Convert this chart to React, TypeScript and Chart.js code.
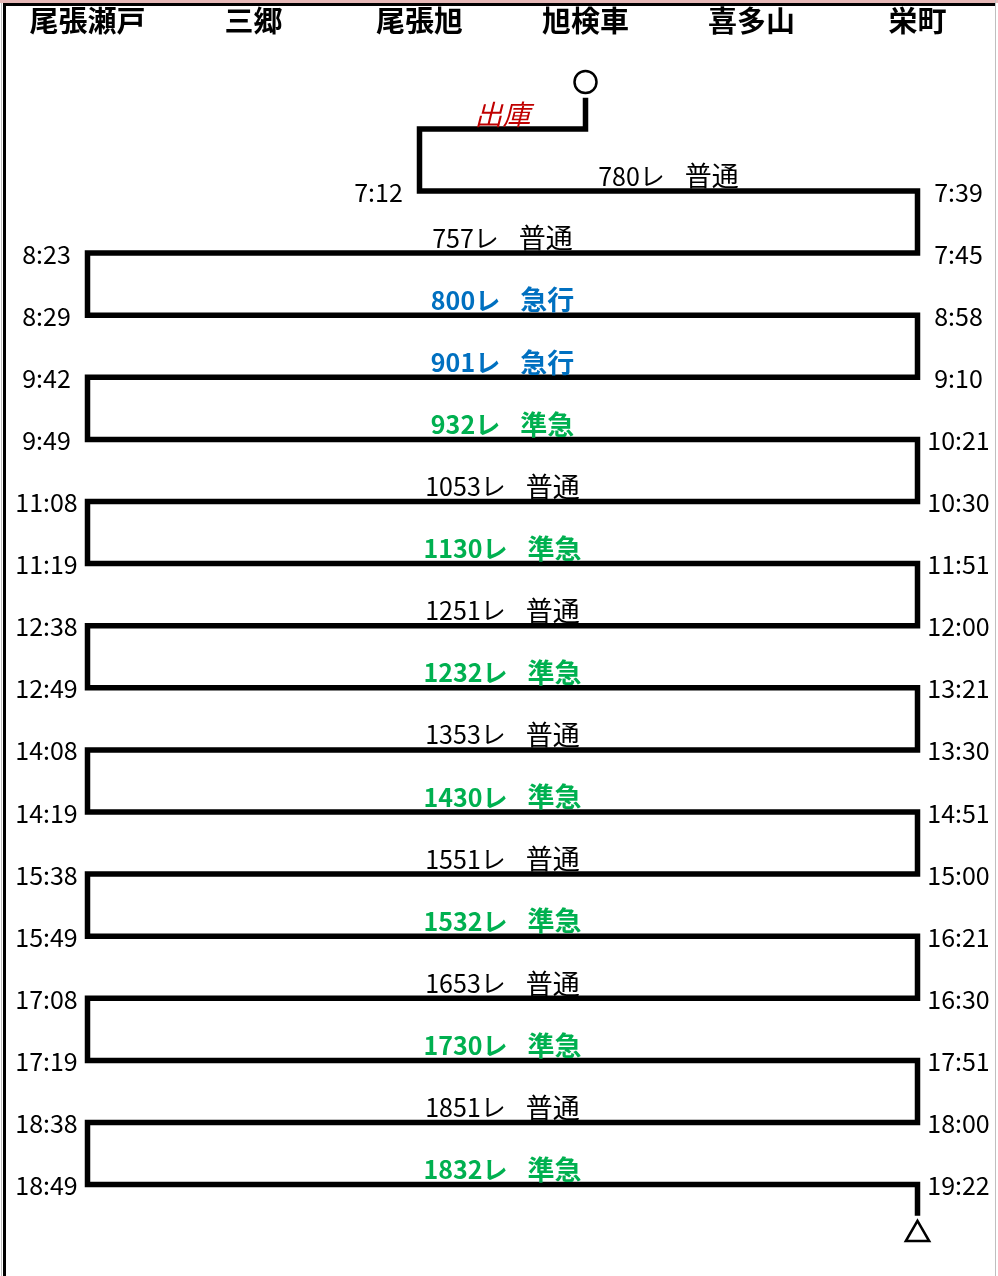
import React, { useEffect, useRef } from 'react';
import { Chart, registerables } from 'chart.js';

Chart.register(...registerables);

// ---- data ----
const stations = ['尾張瀬戸', '三郷', '尾張旭', '旭検車', '喜多山', '栄町'];
const trains = ['780レ', '757レ', '800レ', '901レ', '932レ', '1053レ', '1130レ', '1251レ', '1232レ', '1353レ', '1430レ', '1551レ', '1532レ', '1653レ', '1730レ', '1851レ', '1832レ'];
const kinds = ['普通', '普通', '急行', '急行', '準急', '普通', '準急', '普通', '準急', '普通', '準急', '普通', '準急', '普通', '準急', '普通', '準急'];
const fromStation = [2, 5, 0, 5, 0, 5, 0, 5, 0, 5, 0, 5, 0, 5, 0, 5, 0];
const toStation = [5, 0, 5, 0, 5, 0, 5, 0, 5, 0, 5, 0, 5, 0, 5, 0, 5];
const depTimes = ['7:12', '7:45', '8:29', '9:10', '9:49', '10:30', '11:19', '12:00', '12:49', '13:30', '14:19', '15:00', '15:49', '16:30', '17:19', '18:00', '18:49'];
const arrTimes = ['7:39', '8:23', '8:58', '9:42', '10:21', '11:08', '11:51', '12:38', '13:21', '14:08', '14:51', '15:38', '16:21', '17:08', '17:51', '18:38', '19:22'];
const kindColors: Record<string, string> = { '普通': '#000000', '急行': '#0070C0', '準急': '#00B050' };
const depotLabel = '出庫';
const depotStation = 3; // 旭検車
const depotRow = -1;
const startRow = -1.5;
const startMarkRow = -1.755;
const endRow = 16.5;
const endMarkRow = 16.8;

const FONT = '"Noto Sans CJK JP", "Noto Sans", sans-serif';

function buildPath() {
  const pts: { x: number; y: number }[] = [];
  pts.push({ x: depotStation, y: startRow });
  pts.push({ x: depotStation, y: depotRow });
  pts.push({ x: fromStation[0], y: depotRow });
  for (let r = 0; r < trains.length; r++) {
    pts.push({ x: fromStation[r], y: r });
    pts.push({ x: toStation[r], y: r });
  }
  pts.push({ x: toStation[trains.length - 1], y: endRow });
  return pts;
}

const labelsPlugin = {
  id: 'diagramLabels',
  beforeDraw(chart: any) {
    const ctx = chart.ctx;
    ctx.save();
    ctx.fillStyle = '#ffffff';
    ctx.fillRect(0, 0, chart.width, chart.height);
    ctx.restore();
  },
  afterDatasetsDraw(chart: any) {
    const ctx = chart.ctx;
    const xs = chart.scales.x;
    const ys = chart.scales.y;
    ctx.save();
    // frame
    ctx.fillStyle = '#E6B8B7';
    ctx.fillRect(0, 0, chart.width, 3);
    ctx.fillStyle = '#000000';
    ctx.fillRect(3, 3, 992, 3);
    ctx.fillRect(3, 3, 3, chart.height);
    ctx.fillStyle = '#BFBFBF';
    ctx.fillRect(1, 3, 1, chart.height);
    ctx.fillRect(995, 0, 1, chart.height);

    // station header
    ctx.textAlign = 'center';
    ctx.textBaseline = 'middle';
    ctx.fillStyle = '#000000';
    ctx.font = `bold 29px ${FONT}`;
    stations.forEach((s, i) => {
      ctx.fillText(s, xs.getPixelForValue(i), 21);
    });

    // times
    ctx.font = `25px ${FONT}`;
    for (let r = 0; r < trains.length; r++) {
      const y = ys.getPixelForValue(r);
      const lo = Math.min(fromStation[r], toStation[r]);
      const put = (st: number, t: string) => {
        const px = xs.getPixelForValue(st);
        const x = st === lo ? px - 41 : px + 41;
        ctx.fillText(t, x, y + 1);
      };
      put(fromStation[r], depTimes[r]);
      put(toStation[r], arrTimes[r]);
    }

    // train labels
    ctx.textAlign = 'left';
    for (let r = 0; r < trains.length; r++) {
      const y = ys.getPixelForValue(r) - 15;
      const x = xs.getPixelForValue((fromStation[r] + toStation[r]) / 2);
      const col = kindColors[kinds[r]];
      const weight = col === '#000000' ? '' : 'bold ';
      ctx.fillStyle = col;
      ctx.font = `${weight}25px ${FONT}`;
      const w1 = ctx.measureText(trains[r]).width;
      ctx.font = `${weight}27px ${FONT}`;
      const w2 = ctx.measureText(kinds[r]).width;
      const gap = 20;
      const start = x - (w1 + gap + w2) / 2;
      ctx.font = `${weight}25px ${FONT}`;
      ctx.fillText(trains[r], start, y);
      ctx.font = `${weight}27px ${FONT}`;
      ctx.fillText(kinds[r], start + w1 + gap, y);
    }

    // depot label
    ctx.textAlign = 'center';
    ctx.fillStyle = '#C00000';
    ctx.font = `italic 28px ${FONT}`;
    ctx.fillText(depotLabel, xs.getPixelForValue((depotStation + fromStation[0]) / 2), ys.getPixelForValue(depotRow) - 15);
    ctx.restore();
  },
};

export default function App() {
  const ref = useRef<HTMLCanvasElement | null>(null);
  useEffect(() => {
    document.body.style.margin = '0';
    const canvas = ref.current;
    if (!canvas) return;
    const unitX = 166;
    const x0 = 87.5;
    const unitY = 62.1;
    const y0 = 191;
    const xmin = -x0 / unitX;
    const ymin = -y0 / unitY;
    const chart = new Chart(canvas, {
      type: 'line',
      data: {
        datasets: [
          {
            data: buildPath(),
            borderColor: '#000000',
            borderWidth: 5.5,
            borderJoinStyle: 'miter',
            borderCapStyle: 'butt',
            pointRadius: 0,
            tension: 0,
            fill: false,
          },
          {
            data: [
              { x: depotStation, y: startMarkRow },
              { x: toStation[trains.length - 1], y: endMarkRow },
            ],
            showLine: false,
            pointStyle: ['circle', 'triangle'] as any,
            pointRadius: [11, 13.5],
            pointBackgroundColor: '#ffffff',
            pointBorderColor: '#000000',
            pointBorderWidth: 2.5,
          },
        ],
      },
      options: {
        animation: false,
        responsive: false,
        devicePixelRatio: 1,
        events: [],
        layout: { padding: 0, autoPadding: false },
        scales: {
          x: { type: 'linear', min: xmin, max: xmin + 998 / unitX, display: false },
          y: { type: 'linear', min: ymin, max: ymin + 1276 / unitY, reverse: true, display: false },
        },
        plugins: { legend: { display: false }, tooltip: { enabled: false } },
        clip: false as any,
      } as any,
      plugins: [labelsPlugin],
    });
    return () => chart.destroy();
  }, []);
  return <canvas ref={ref} width={998} height={1276} style={{ display: 'block' }} />;
}
